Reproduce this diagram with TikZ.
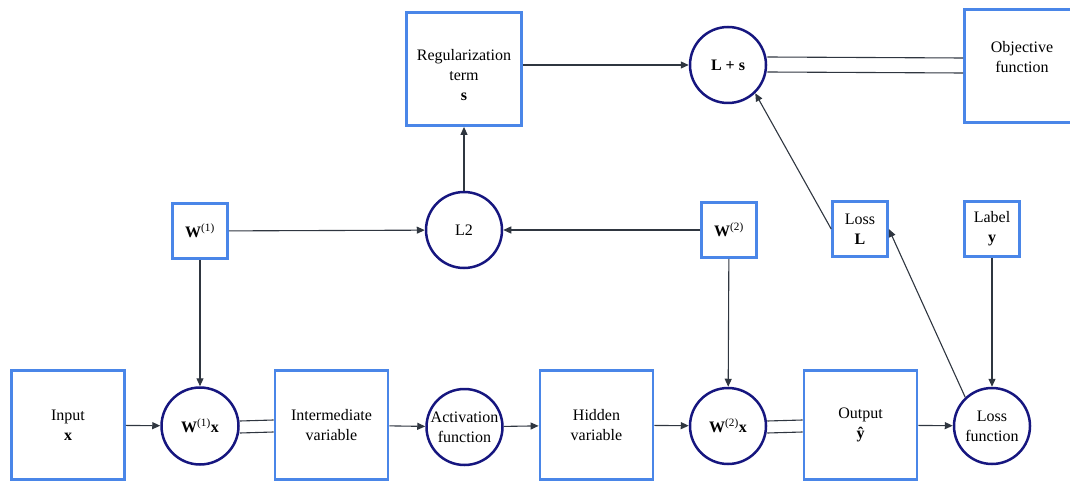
\documentclass[tikz,border=0pt]{standalone}
\usepackage{fontspec}
\setmainfont{Liberation Serif}
\newfontfamily\labelfont{Liberation Serif}
\usetikzlibrary{arrows.meta}

\definecolor{boxblue}{HTML}{4A86E8}
\definecolor{opnavy}{HTML}{16167F}
\definecolor{wire}{HTML}{2F3640}

\tikzset{
  every node/.style={font=\labelfont\fontsize{16}{20}\selectfont, align=center, inner sep=0pt},
  bigbox/.style={draw=boxblue, line width=2.8pt, fill=white,
    minimum width=113pt, minimum height=109pt},
  smallbox/.style={draw=boxblue, line width=2.6pt, fill=white,
    minimum width=55pt, minimum height=55pt},
  opcircle/.style={circle, draw=opnavy, line width=2.5pt, fill=white,
    minimum size=#1},
  opcircle/.default=76pt,
  wireline/.style={draw=wire, line width=1.1pt},
  arr/.style={wireline, -{Triangle[length=8pt,width=7pt]}},
}

\begin{document}
\begin{tikzpicture}[x=1pt,y=-1pt]
\useasboundingbox (0,0) rectangle (1070,486);
\clip (0,0) rectangle (1070,486);

% forward path along the bottom row
\node[bigbox] (in)    at (68,425)    {Input\\\textbf{x}};
\node[opcircle=77pt] (w1x) at (200,426) {\textbf{W}\textsuperscript{(1)}\textbf{x}};
\node[bigbox] (inter) at (331.5,425) {Intermediate\\variable};
\node[opcircle] (act)  at (464.5,427) {Activation\\function};
\node[bigbox] (hid)   at (596.5,425) {Hidden\\variable};
\node[opcircle] (w2x)  at (728,426)   {\textbf{W}\textsuperscript{(2)}\textbf{x}};
\node[bigbox] (out)   at (860.5,425) {Output\\\textbf{\^{y}}};
\node[opcircle] (lossfn) at (992,426) {Loss\\function};

% parameters, loss and label
\node[smallbox] (w1)    at (200,231) {\textbf{W}\textsuperscript{(1)}};
\node[opcircle] (l2)    at (464,230) {L2};
\node[smallbox] (w2)    at (729,230) {\textbf{W}\textsuperscript{(2)}};
\node[smallbox] (lossL) at (860,229) {Loss\\\textbf{L}};
\node[smallbox] (label) at (992,229) {Label\\\textbf{y}};

% regularisation and objective; text sits a little off the box centre
\node[bigbox, minimum width=115pt, minimum height=113pt, text height=63pt] (reg) at (464,69)
  {Regularization\\term\\\textbf{s}};
\node[opcircle] (lps) at (728,65) {\textbf{L + s}};
\node[bigbox, minimum width=115pt, minimum height=113pt, text depth=18pt] (obj) at (1022,66)
  {Objective\\function};

% arrows of the forward path
\draw[arr] (in) -- (w1x);
\draw[arr] (inter) -- (act);
\draw[arr] (act) -- (hid);
\draw[arr] (hid) -- (w2x);
\draw[arr] (out) -- (lossfn);

% plain double links
\draw[wireline] ([yshift=5pt]w1x.east) -- ([yshift=5pt]inter.west);
\draw[wireline] ([yshift=-7pt]w1x.east) -- ([yshift=-7pt]inter.west);
\draw[wireline] ([yshift=5pt]w2x.east) -- ([yshift=5pt]out.west);
\draw[wireline] ([yshift=-7pt]w2x.east) -- ([yshift=-7pt]out.west);
\draw[wireline] ([yshift=8pt]lps.east) -- ([yshift=8pt]obj.west);
\draw[wireline] ([yshift=-7pt]lps.east) -- ([yshift=-7pt]obj.west);

% weights feeding the products and the norm
\draw[arr] (w1) -- (w1x);
\draw[arr] (w2) -- (w2x);
\draw[arr] (w1) -- (l2);
\draw[arr] (w2) -- (l2);
\draw[arr] (l2) -- (reg);
\draw[arr] (reg.east |- lps.west) -- (lps.west);

% loss path
\draw[arr] (label) -- (lossfn);
\draw[arr] (lossfn.133) -- (lossL.east);
\draw[arr] (lossL.west) -- (lps.-46);
\end{tikzpicture}
\end{document}
